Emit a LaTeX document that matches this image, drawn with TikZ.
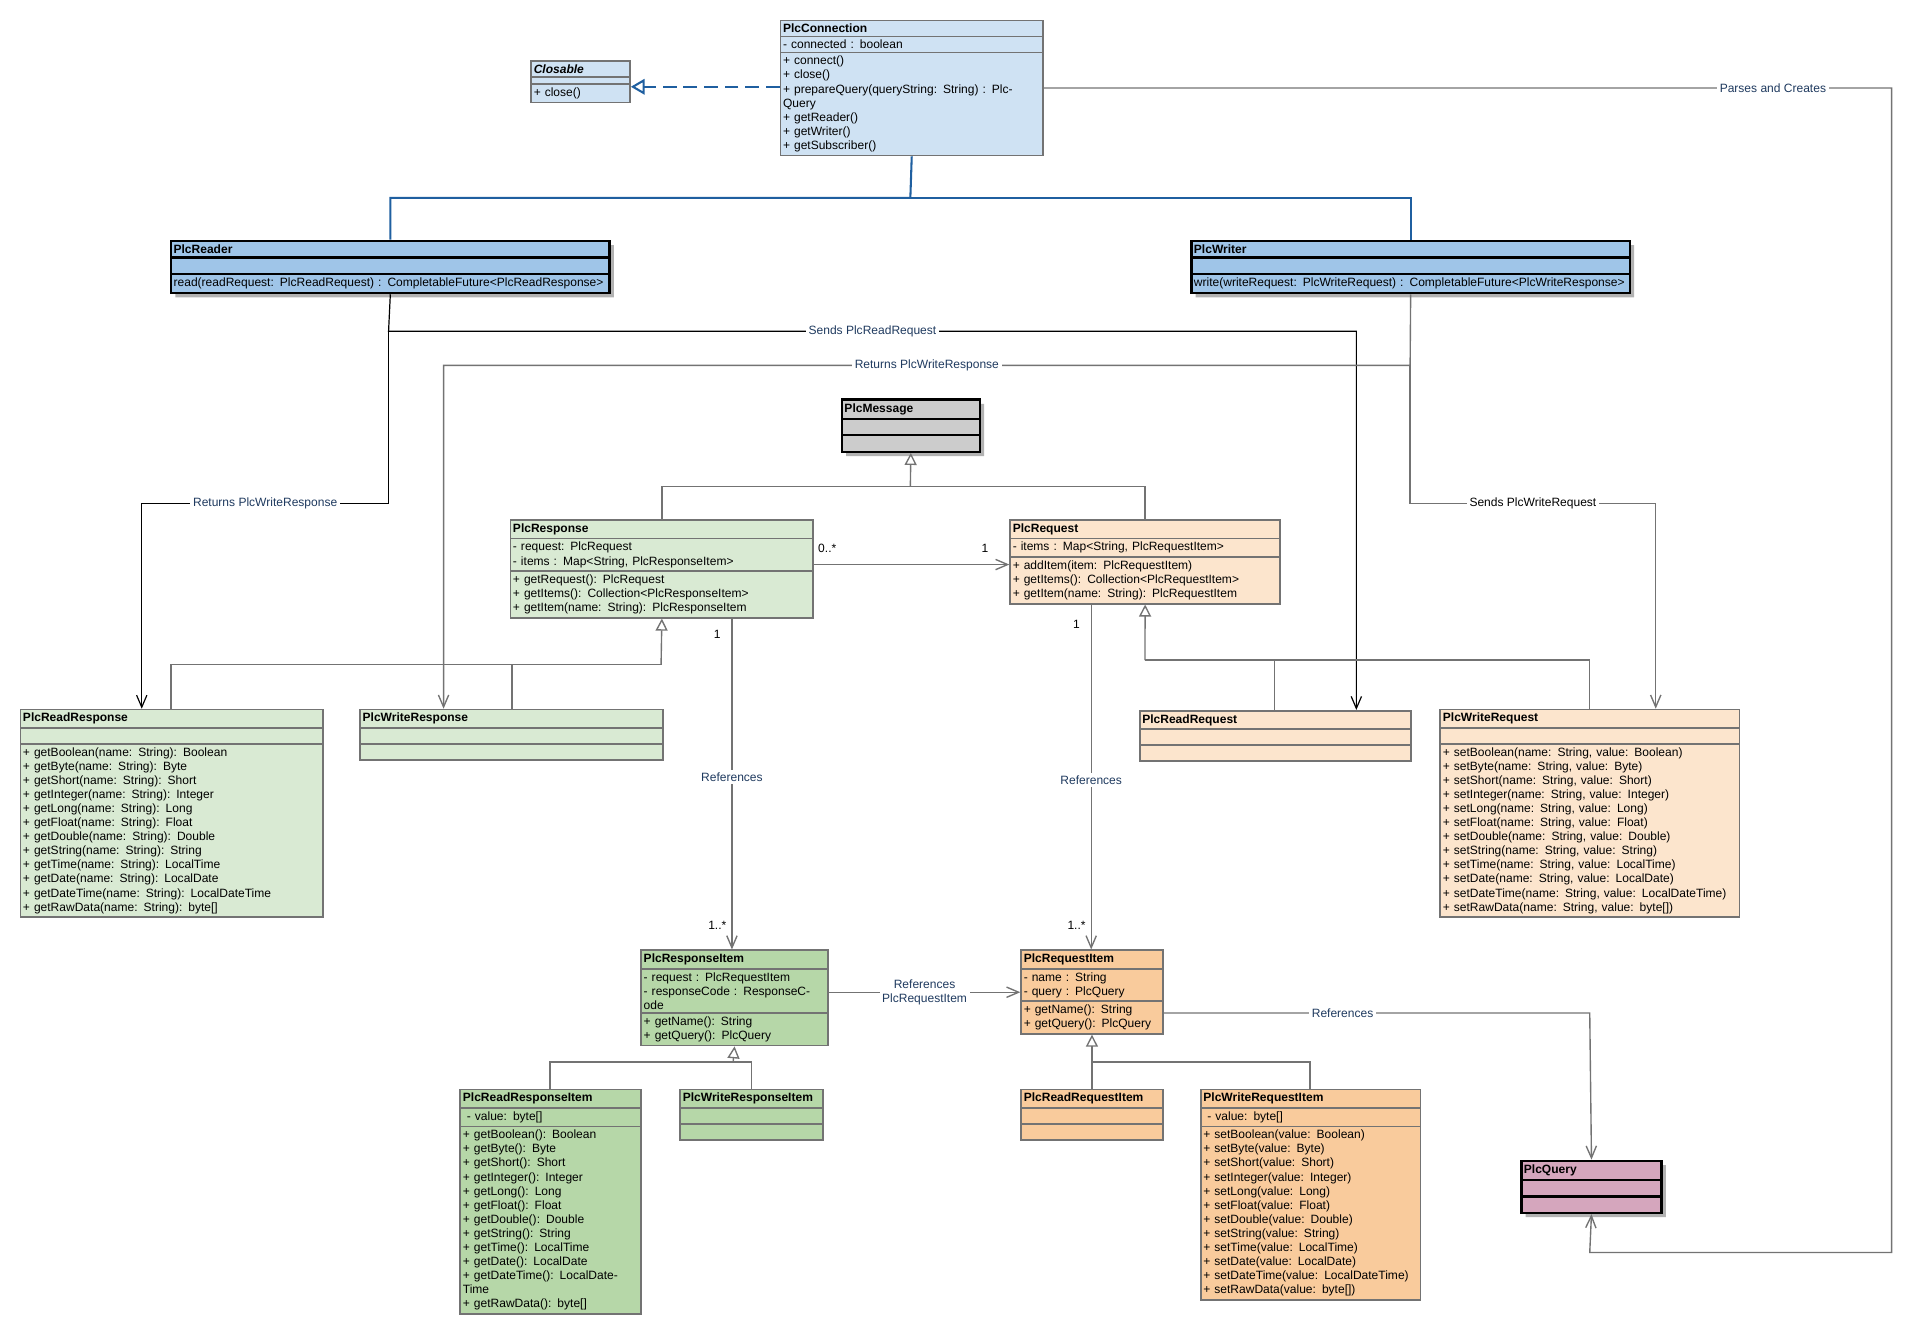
\documentclass[tikz,border=0pt]{standalone}
\usepackage{fontspec}
\setmainfont{Liberation Sans}
\usetikzlibrary{shapes.multipart,arrows.meta,shadows}
\definecolor{connblue}{HTML}{CFE2F3}
\definecolor{ifblue}{HTML}{9FC5E8}
\definecolor{msggray}{HTML}{CCCCCC}
\definecolor{respgreen}{HTML}{D9EAD3}
\definecolor{itemgreen}{HTML}{B6D7A8}
\definecolor{reqorange}{HTML}{FCE5CD}
\definecolor{itemorange}{HTML}{F9CB9C}
\definecolor{querypink}{HTML}{D5A6BD}
\definecolor{labelnavy}{HTML}{1F3A5F}
\definecolor{realblue}{HTML}{1F5FA0}
\tikzset{
  cls/.style={rectangle split,rectangle split parts=3,anchor=north west,draw=black!55,
    line width=1pt,align=left,inner xsep=1.5pt,inner ysep=1.6pt,font=\fontsize{7}{8.2}\selectfont},
  heavycls/.style={cls,draw=black,line width=1.4pt,
    drop shadow={shadow xshift=2.5pt,shadow yshift=-2.5pt,fill=black!30,opacity=1}},
  flow/.style={black,line width=0.7pt},
  assoc/.style={black!55,line width=0.8pt},
  vhead/.style={-{Straight Barb[length=7pt,width=6pt]}},
  genhead/.style={-{Triangle[open,length=7pt,width=7pt]}},
  lbl/.style={fill=white,inner sep=1.5pt,text=labelnavy,font=\fontsize{7}{8.2}\selectfont,align=center},
  mult/.style={inner sep=1pt,font=\fontsize{7}{8.2}\selectfont}
}
\newcommand{\emptypart}{\rule{0pt}{5pt}}
\begin{document}
\begin{tikzpicture}[x=0.025cm,y=-0.025cm]
\useasboundingbox (0,0) rectangle (1568,1081);
% classes
\node[cls,fill=connblue,text width=5.265cm] (conn) at (638,16) {\centering\textbf{PlcConnection}\nodepart{two}- connected : boolean\nodepart{three}+ connect()\\+ close()\\+ prepareQuery(queryString: String) : PlcQuery\\+ getReader()\\+ getWriter()\\+ getSubscriber()\\[9pt]};
\node[cls,fill=connblue,text width=1.915cm] (closable) at (434,49) {\centering\textbf{\textit{Closable}}\nodepart{two}\rule{0pt}{0pt}\nodepart{three}+ close()\\[8pt]};
\node[heavycls,fill=ifblue,text width=8.865cm] (reader) at (139,196) {\centering\textbf{PlcReader}\nodepart{two}\emptypart\nodepart{three}read(readRequest: PlcReadRequest) : CompletableFuture<PlcReadResponse>};
\node[heavycls,fill=ifblue,text width=8.865cm] (writer) at (974,196) {\centering\textbf{PlcWriter}\nodepart{two}\emptypart\nodepart{three}write(writeRequest: PlcWriteRequest) : CompletableFuture<PlcWriteResponse>};
\node[heavycls,fill=msggray,text width=2.715cm] (message) at (688,326) {\centering\textbf{PlcMessage}\nodepart{two}\emptypart\nodepart{three}\emptypart};
\node[cls,fill=respgreen,text width=6.09cm] (response) at (417,425) {\centering\textbf{PlcResponse}\nodepart{two}- request: PlcRequest\\- items : Map<String, PlcResponseItem>\nodepart{three}+ getRequest(): PlcRequest\\+ getItems(): Collection<PlcResponseItem>\\+ getItem(name: String): PlcResponseItem\\[1pt]};
\node[cls,fill=reqorange,text width=5.415cm] (request) at (826,425) {\centering\textbf{PlcRequest}\nodepart{two}- items : Map<String, PlcRequestItem>\nodepart{three}+ addItem(item: PlcRequestItem)\\+ getItems(): Collection<PlcRequestItem>\\+ getItem(name: String): PlcRequestItem\\[1pt]};
\node[cls,fill=respgreen,text width=6.09cm] (readresp) at (16,580) {\centering\textbf{PlcReadResponse}\nodepart{two}\emptypart\nodepart{three}+ getBoolean(name: String): Boolean\\+ getByte(name: String): Byte\\+ getShort(name: String): Short\\+ getInteger(name: String): Integer\\+ getLong(name: String): Long\\+ getFloat(name: String): Float\\+ getDouble(name: String): Double\\+ getString(name: String): String\\+ getTime(name: String): LocalTime\\+ getDate(name: String): LocalDate\\+ getDateTime(name: String): LocalDateTime\\+ getRawData(name: String): byte[]};
\node[cls,fill=respgreen,text width=6.09cm] (writeresp) at (294,580) {\centering\textbf{PlcWriteResponse}\nodepart{two}\emptypart\nodepart{three}\emptypart};
\node[cls,fill=reqorange,text width=5.44cm] (readreq) at (932,581) {\centering\textbf{PlcReadRequest}\nodepart{two}\emptypart\nodepart{three}\emptypart};
\node[cls,fill=reqorange,text width=6.015cm] (writereq) at (1178,580) {\centering\textbf{PlcWriteRequest}\nodepart{two}\emptypart\nodepart{three}+ setBoolean(name: String, value: Boolean)\\+ setByte(name: String, value: Byte)\\+ setShort(name: String, value: Short)\\+ setInteger(name: String, value: Integer)\\+ setLong(name: String, value: Long)\\+ setFloat(name: String, value: Float)\\+ setDouble(name: String, value: Double)\\+ setString(name: String, value: String)\\+ setTime(name: String, value: LocalTime)\\+ setDate(name: String, value: LocalDate)\\+ setDateTime(name: String, value: LocalDateTime)\\+ setRawData(name: String, value: byte[])};
\node[cls,fill=itemgreen,text width=3.715cm] (respitem) at (524,777) {\centering\textbf{PlcResponseItem}\nodepart{two}- request : PlcRequestItem\\- responseCode : ResponseCode\nodepart{three}+ getName(): String\\+ getQuery(): PlcQuery};
\node[cls,fill=itemorange,text width=2.79cm] (reqitem) at (835,777) {\centering\textbf{PlcRequestItem}\nodepart{two}- name : String\\- query : PlcQuery\nodepart{three}+ getName(): String\\+ getQuery(): PlcQuery};
\node[cls,fill=itemgreen,text width=3.59cm] (readrespitem) at (376,891) {\centering\textbf{PlcReadResponseItem}\nodepart{two}\ - value: byte[]\nodepart{three}+ getBoolean(): Boolean\\+ getByte(): Byte\\+ getShort(): Short\\+ getInteger(): Integer\\+ getLong(): Long\\+ getFloat(): Float\\+ getDouble(): Double\\+ getString(): String\\+ getTime(): LocalTime\\+ getDate(): LocalDate\\+ getDateTime(): LocalDateTime\\+ getRawData(): byte[]};
\node[cls,fill=itemgreen,text width=2.815cm] (writerespitem) at (556,891) {\centering\textbf{PlcWriteResponseItem}\nodepart{two}\emptypart\nodepart{three}\emptypart};
\node[cls,fill=itemorange,text width=2.79cm] (readreqitem) at (835,891) {\centering\textbf{PlcReadRequestItem}\nodepart{two}\emptypart\nodepart{three}\emptypart};
\node[cls,fill=itemorange,text width=4.39cm] (writereqitem) at (982,891) {\centering\textbf{PlcWriteRequestItem}\nodepart{two}\ - value: byte[]\nodepart{three}+ setBoolean(value: Boolean)\\+ setByte(value: Byte)\\+ setShort(value: Short)\\+ setInteger(value: Integer)\\+ setLong(value: Long)\\+ setFloat(value: Float)\\+ setDouble(value: Double)\\+ setString(value: String)\\+ setTime(value: LocalTime)\\+ setDate(value: LocalDate)\\+ setDateTime(value: LocalDateTime)\\+ setRawData(value: byte[])};
\node[heavycls,fill=querypink,text width=2.765cm] (query) at (1244,949) {\centering\textbf{PlcQuery}\nodepart{two}\emptypart\nodepart{three}\emptypart};
% connection to closable, reader, writer, query
\draw[realblue,line width=1.2pt,dashed,dash pattern=on 8pt off 4pt,-{Triangle[open,length=8pt,width=9pt]}] (conn.west |- 0,71) -- (closable.east |- 0,71);
\draw[realblue,line width=1.2pt] (conn.south) -- (745,162) -| (reader.north);
\draw[realblue,line width=1.2pt] (745,162) -| (writer.north);
\draw[assoc,vhead] (conn.east |- 0,72) -- node[lbl,pos=0.86,text=labelnavy]{Parses and Creates} (1548,72) -- (1548,1025) -- (1301,1025) -- (query.south);
% reader and writer messages
\draw[flow,vhead] (reader.south) -- (318,271) -- node[lbl,pos=0.5]{Sends PlcReadRequest} (1110,271) -- (1110,0 |- readreq.north);
\draw[flow,vhead] (318,271) -- (318,412) -- node[lbl]{Returns PlcWriteResponse} (116,412) -- (116,0 |- readresp.north);
\draw[assoc,vhead] (writer.south) -- (1154,299) -- node[lbl,pos=0.5]{Returns PlcWriteResponse} (363,299) -- (363,0 |- writeresp.north);
\draw[assoc,vhead] (1154,299) -- (1154,412) -- node[lbl,text=black]{Sends PlcWriteRequest} (1355,412) -- (1355,0 |- writereq.north);
% generalizations
\draw[assoc] (response.north) |- (745,398) -| (request.north);
\draw[assoc,genhead] (745,398) -- (message.south);
\draw[assoc] (140,0 |- readresp.north) |- (541,544) -- (419,544) -- (419,0 |- writeresp.north);
\draw[assoc,genhead] (541,544) -- (response.south);
\draw[assoc] (1043,0 |- readreq.north) |- (937,540) -- (1301,540) -- (1301,0 |- writereq.north);
\draw[assoc,genhead] (937,540) -- (request.south);
\draw[assoc] (450,0 |- readrespitem.north) |- (600,869) -- (615,869) -- (615,0 |- writerespitem.north);
\draw[assoc,genhead] (600,869) -- (respitem.south);
\draw[assoc] (1072,0 |- writereqitem.north) |- (893,869);
\draw[assoc,genhead] (readreqitem.north) -- (reqitem.south);
% associations
\draw[assoc,vhead] (response.east |- 0,462) -- (request.west |- 0,462);
\node[mult] (m1) at (677,449) {0..*};
\node[mult] (m2) at (806,449) {1};
\draw[assoc,vhead] (599,0 |- response.south) -- node[lbl,pos=0.48]{References} (599,0 |- respitem.north);
\node[mult] (m3) at (587,519) {1};
\node[mult] (m4) at (587,757) {1..*};
\draw[assoc,vhead] (893,0 |- request.south) -- node[lbl,pos=0.51]{References} (893,0 |- reqitem.north);
\node[mult] (m5) at (881,511) {1};
\node[mult] (m6) at (881,757) {1..*};
\draw[assoc,vhead] (respitem.east |- 0,812) -- node[lbl]{References\\PlcRequestItem} (reqitem.west |- 0,812);
\draw[assoc,vhead] (reqitem.east |- 0,829) -- node[lbl,pos=0.42]{References} (1301,829) -- (query.north);
\end{tikzpicture}
\end{document}
